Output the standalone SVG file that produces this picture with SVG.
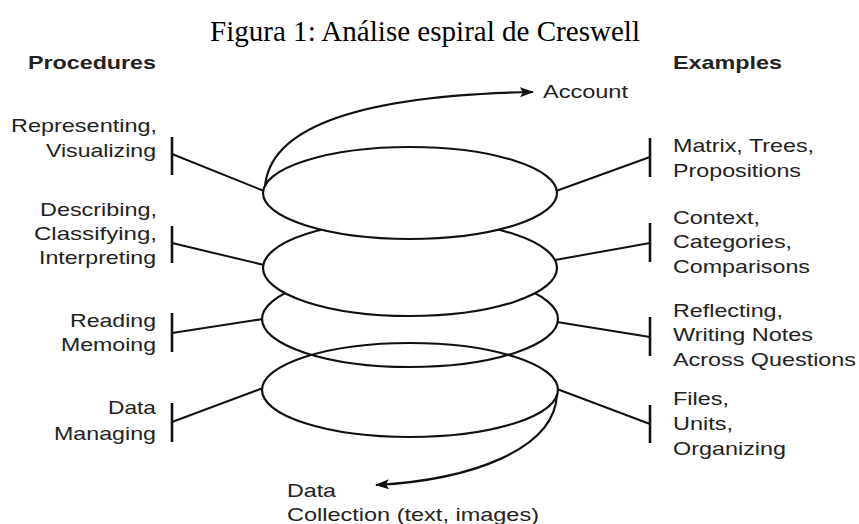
<svg xmlns="http://www.w3.org/2000/svg" width="859" height="524" viewBox="0 0 859 524">
<style>
.title{font-family:"Liberation Serif","Times New Roman",serif;font-size:29px;fill:#000}
.lbl{font-family:"Liberation Sans",Arial,sans-serif;font-size:18.5px;fill:#222}
.hdr{font-family:"Liberation Sans",Arial,sans-serif;font-size:18.5px;font-weight:bold;fill:#222}
.l{text-anchor:end}
.ln{stroke:#111;stroke-width:2;fill:none}
.bar{stroke:#111;stroke-width:2.6;fill:none}
.sp{stroke:#111;stroke-width:2.2;fill:none}
.spw{stroke:#111;stroke-width:2.2;fill:#fff}
</style>
<defs>
<marker id="ah" viewBox="0 0 14 10" refX="13" refY="5" markerWidth="14" markerHeight="10" markerUnits="userSpaceOnUse" orient="auto">
<path d="M0,0 L14,5 L0,10 L3,5 z" fill="#111"/>
</marker>
</defs>
<rect width="859" height="524" fill="#fff"/>
<text class="title" x="210" y="41" textLength="430" lengthAdjust="spacingAndGlyphs">Figura 1: Análise espiral de Creswell</text>

<g id="headers">
<text class="hdr l" x="156" y="69" textLength="128" lengthAdjust="spacingAndGlyphs">Procedures</text>
<text class="hdr" x="673" y="69" textLength="109" lengthAdjust="spacingAndGlyphs">Examples</text>
</g>

<g id="spiral">
<ellipse class="sp" cx="410" cy="390" rx="148" ry="47"/>
<ellipse class="sp" cx="410" cy="319" rx="148" ry="48"/>
<ellipse class="spw" cx="410" cy="268" rx="147" ry="48"/>
<ellipse class="spw" cx="410" cy="193" rx="147" ry="46"/>
</g>

<g id="connectors">
<path class="sp" d="M265,187 C270,120 380,95 533,92" marker-end="url(#ah)"/>
<path class="sp" d="M557,394 C555,450 470,480 376,485" marker-end="url(#ah)"/>
<line class="ln" x1="172" y1="154" x2="264" y2="191"/>
<line class="ln" x1="172" y1="243" x2="264" y2="265"/>
<line class="ln" x1="172" y1="333" x2="263" y2="319"/>
<line class="ln" x1="172" y1="422" x2="263" y2="388"/>
<line class="ln" x1="556" y1="191" x2="650" y2="157"/>
<line class="ln" x1="555" y1="260" x2="650" y2="243"/>
<line class="ln" x1="557" y1="322" x2="650" y2="337"/>
<line class="ln" x1="557" y1="389" x2="650" y2="424"/>
</g>

<g id="left-representing">
<line class="bar" x1="172" y1="137" x2="172" y2="175"/>
<text class="lbl l" x="157" y="132" textLength="146" lengthAdjust="spacingAndGlyphs">Representing,</text>
<text class="lbl l" x="156" y="157" textLength="110" lengthAdjust="spacingAndGlyphs">Visualizing</text>
</g>
<g id="left-describing">
<line class="bar" x1="172" y1="226" x2="172" y2="263"/>
<text class="lbl l" x="157" y="216" textLength="117" lengthAdjust="spacingAndGlyphs">Describing,</text>
<text class="lbl l" x="157" y="240" textLength="123" lengthAdjust="spacingAndGlyphs">Classifying,</text>
<text class="lbl l" x="156" y="264" textLength="117" lengthAdjust="spacingAndGlyphs">Interpreting</text>
</g>
<g id="left-reading">
<line class="bar" x1="172" y1="313" x2="172" y2="352"/>
<text class="lbl l" x="156" y="327" textLength="86" lengthAdjust="spacingAndGlyphs">Reading</text>
<text class="lbl l" x="156" y="351" textLength="95" lengthAdjust="spacingAndGlyphs">Memoing</text>
</g>
<g id="left-managing">
<line class="bar" x1="172" y1="403" x2="172" y2="442"/>
<text class="lbl l" x="156" y="414" textLength="48" lengthAdjust="spacingAndGlyphs">Data</text>
<text class="lbl l" x="156" y="440" textLength="102" lengthAdjust="spacingAndGlyphs">Managing</text>
</g>

<g id="right-matrix">
<line class="bar" x1="650" y1="138" x2="650" y2="177"/>
<text class="lbl" x="673" y="152" textLength="141" lengthAdjust="spacingAndGlyphs">Matrix, Trees,</text>
<text class="lbl" x="673" y="177" textLength="128" lengthAdjust="spacingAndGlyphs">Propositions</text>
</g>
<g id="right-context">
<line class="bar" x1="650" y1="223" x2="650" y2="262"/>
<text class="lbl" x="673" y="224" textLength="87" lengthAdjust="spacingAndGlyphs">Context,</text>
<text class="lbl" x="673" y="248" textLength="119" lengthAdjust="spacingAndGlyphs">Categories,</text>
<text class="lbl" x="673" y="273" textLength="137" lengthAdjust="spacingAndGlyphs">Comparisons</text>
</g>
<g id="right-reflecting">
<line class="bar" x1="650" y1="317" x2="650" y2="356"/>
<text class="lbl" x="673" y="317" textLength="110" lengthAdjust="spacingAndGlyphs">Reflecting,</text>
<text class="lbl" x="673" y="341" textLength="140" lengthAdjust="spacingAndGlyphs">Writing Notes</text>
<text class="lbl" x="673" y="366" textLength="183" lengthAdjust="spacingAndGlyphs">Across Questions</text>
</g>
<g id="right-files">
<line class="bar" x1="650" y1="405" x2="650" y2="443"/>
<text class="lbl" x="673" y="405" textLength="56" lengthAdjust="spacingAndGlyphs">Files,</text>
<text class="lbl" x="673" y="430" textLength="60" lengthAdjust="spacingAndGlyphs">Units,</text>
<text class="lbl" x="673" y="455" textLength="113" lengthAdjust="spacingAndGlyphs">Organizing</text>
</g>

<g id="account">
<text class="lbl" x="543" y="98" textLength="85" lengthAdjust="spacingAndGlyphs">Account</text>
</g>
<g id="data-collection">
<text class="lbl" x="287" y="497" textLength="49" lengthAdjust="spacingAndGlyphs">Data</text>
<text class="lbl" x="287" y="521" textLength="252" lengthAdjust="spacingAndGlyphs">Collection (text, images)</text>
</g>
</svg>
